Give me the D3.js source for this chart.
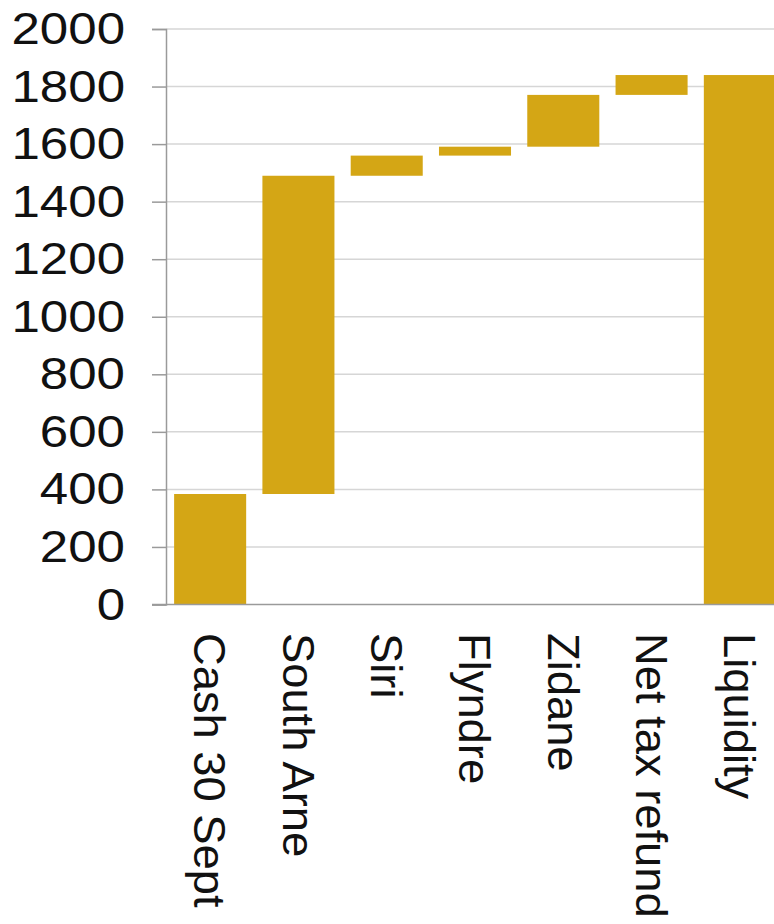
<!DOCTYPE html>
<html>
<head>
<meta charset="utf-8">
<script src="https://cdn.jsdelivr.net/npm/d3@7"></script>
<style>
  html, body { margin: 0; padding: 0; background: #fff; }
  svg { display: block; }
</style>
</head>
<body>
<svg id="chart" width="774" height="924"></svg>
<script>
const categories = ["Cash 30 Sept", "South Arne", "Siri", "Flyndre", "Zidane", "Net tax refund", "Liquidity"];
const changes = [384, 1106, 70, 31, 180, 69];   // step contributions
const totalValue = 1840;                          // final "Liquidity" bar
const yTicks = [0, 200, 400, 600, 800, 1000, 1200, 1400, 1600, 1800, 2000];

// build waterfall segments
const segments = [];
let run = 0;
changes.forEach((c, i) => { segments.push({ cat: categories[i], base: run, top: run + c }); run += c; });
segments.push({ cat: categories[6], base: 0, top: totalValue });

const svg = d3.select("#chart");
const barColor = "#D4A615";

const y = d3.scaleLinear().domain([0, 2000]).range([604.5, 29]);
const x = d3.scaleBand().domain(categories).range([166, 784]).paddingInner(0.184).paddingOuter(0.092);

// gridlines
svg.append("g").selectAll("line").data(yTicks.filter(d => d > 0)).join("line")
  .attr("x1", 166).attr("x2", 774)
  .attr("y1", d => y(d)).attr("y2", d => y(d))
  .attr("stroke", "#d6d6d6").attr("stroke-width", 1.5);

// y axis
const yAxis = svg.append("g").attr("transform", "translate(166,0)")
  .call(d3.axisLeft(y).tickValues(yTicks).tickSize(14).tickPadding(27).tickFormat(d3.format("d")));
yAxis.select(".domain").attr("stroke", "#9a9a9a").attr("stroke-width", 1.5);
yAxis.selectAll(".tick line").attr("stroke", "#9a9a9a").attr("stroke-width", 1.5);
yAxis.selectAll(".tick text")
  .attr("font-family", "'Liberation Sans', Arial, sans-serif")
  .attr("font-size", 44)
  .attr("fill", "#111")
  .attr("x", -41 / 1.16)
  .attr("dy", "0.33em")
  .attr("transform", "scale(1.16,1)");

// bars
svg.append("g").selectAll("rect").data(segments).join("rect")
  .attr("x", d => x(d.cat))
  .attr("width", x.bandwidth())
  .attr("y", d => y(d.top))
  .attr("height", d => y(d.base) - y(d.top))
  .attr("fill", barColor);

// baseline
svg.append("line")
  .attr("x1", 152).attr("x2", 774)
  .attr("y1", y(0)).attr("y2", y(0))
  .attr("stroke", "#9a9a9a").attr("stroke-width", 1.5);

// category labels (rotated)
svg.append("g").selectAll("text").data(categories).join("text")
  .attr("transform", d => `translate(${x(d) + x.bandwidth() / 2},633) rotate(90) scale(1.03,1)`)
  .attr("dy", "0.358em")
  .attr("text-anchor", "start")
  .attr("font-family", "'Liberation Sans', Arial, sans-serif")
  .attr("font-size", 44)
  .attr("fill", "#111")
  .text(d => d);
</script>
</body>
</html>
